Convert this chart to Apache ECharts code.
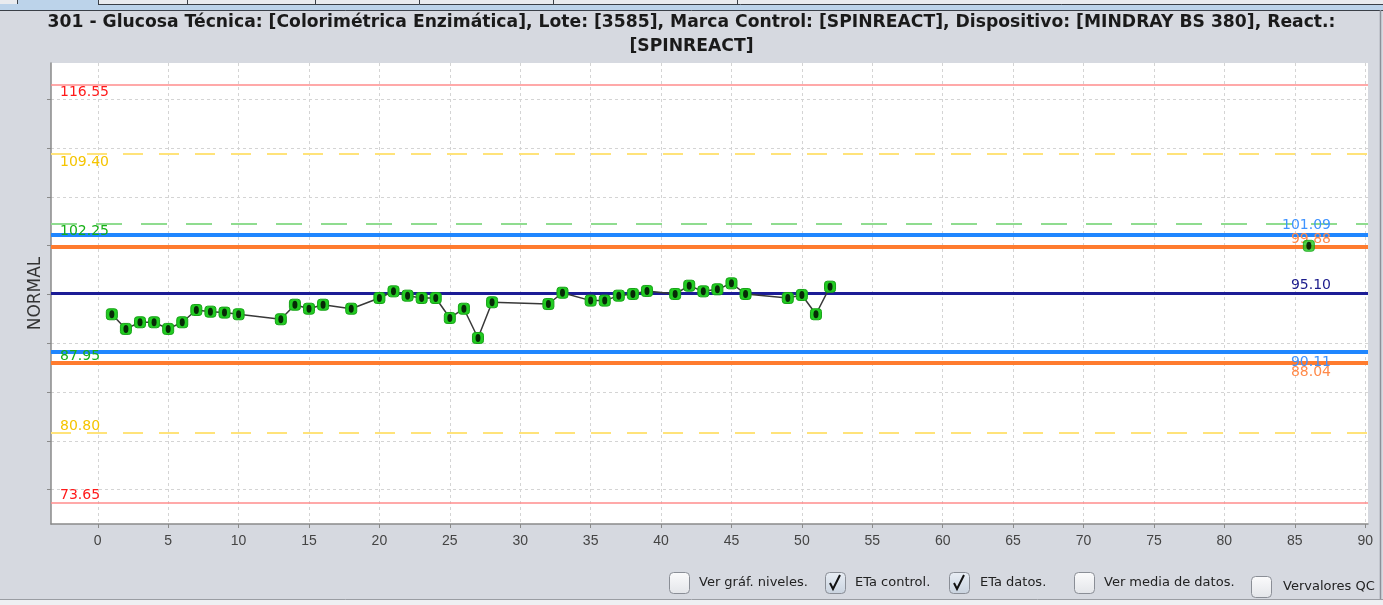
<!DOCTYPE html>
<html>
<head>
<meta charset="utf-8">
<script src="https://cdn.jsdelivr.net/npm/echarts@6.0.0/dist/echarts.min.js"></script>
<style>
html, body { margin: 0; padding: 0; background: #d6d9e0; }
#chart { width: 1383px; height: 605px; }
</style>
</head>
<body>
<div id="chart"></div>
<script>
// puntos de control (nº de corrida / valor)
const runs = [1,2,3,4,5,6,7,8,9,10,13,14,15,16,18,20,21,22,23,24,25,26,27,28,32,33,35,36,37,38,39,41,42,43,44,45,46,49,50,51,52];
const values = [92.97,91.47,92.15,92.15,91.47,92.15,93.41,93.24,93.14,92.97,92.46,93.95,93.54,93.95,93.54,94.64,95.32,94.88,94.64,94.64,92.59,93.54,90.54,94.20,94.02,95.18,94.37,94.37,94.88,95.05,95.36,95.05,95.90,95.32,95.53,96.14,95.05,94.64,94.95,92.97,95.80];
const lastRun = [86];
const lastValue = [99.99];

// limites (media +/- 1, 2, 3 DE)
const limitValues = [116.55, 109.40, 102.25, 87.95, 80.80, 73.65];
const etaControlValues = [101.09, 89.11];
const etaControlLabels = ['101.09', '90.11'];
const etaDatosValues = [99.88, 88.04];
const etaDatosLabels = ['99.88', '88.04'];
const meanValue = 95.10;
const meanLabel = '95.10';

const xTicks = [0,5,10,15,20,25,30,35,40,45,50,55,60,65,70,75,80,85,90];
const yTicks = [75,80,85,90,95,100,105,110,115];

const FONT = 'DejaVu Sans';
const chart = echarts.init(document.getElementById('chart'));

function mk(value, text, color, width, type, labelColor, position, dist) {
    return {
        yAxis: value,
        lineStyle: { color: color, width: width, type: type, opacity: 1 },
        label: {
            show: true, formatter: text, position: position, distance: dist,
            color: labelColor, fontFamily: FONT, fontSize: 14
        }
    };
}

const limitColors = ['#ff8c8c', '#ffe37a', '#8fdc8f', '#8fdc8f', '#ffe37a', '#ff8c8c'];
const limitLabelColors = ['#ff1a1a', '#f5c400', '#17b017', '#17b017', '#f5c400', '#ff1a1a'];
const limitTypes = ['solid', [20, 16], [26, 19], [26, 19], [20, 16], 'solid'];
const limitLines = limitValues.map((v, i) => mk(
    v, v.toFixed(2), limitColors[i], i === 0 || i === 5 ? 1.5 : 2, limitTypes[i], limitLabelColors[i],
    i < 3 ? 'insideStartBottom' : 'insideStartTop', [9, i < 3 ? 1 : 0]
));

const etaLines = [
    mk(etaControlValues[0], etaControlLabels[0], '#1f86ff', 4, 'solid', '#3f93ff', 'insideEndTop', [37, 3]),
    mk(etaDatosValues[0], etaDatosLabels[0], '#ff7b2e', 4, 'solid', '#ff8a4a', 'insideEndTop', [37, 1]),
    mk(etaControlValues[1], etaControlLabels[1], '#1f86ff', 4, 'solid', '#3f93ff', 'insideEndBottom', [37, 3]),
    mk(etaDatosValues[1], etaDatosLabels[1], '#ff7b2e', 4, 'solid', '#ff8a4a', 'insideEndBottom', [37, 3]),
    mk(meanValue, meanLabel, '#1c1c96', 3, 'solid', '#1c1c8c', 'insideEndTop', [37, 1])
];

const points = runs.map((r, i) => [r, values[i]]);
const extra = lastRun.map((r, i) => [r, lastValue[i]]);

const checks = [
    { x: 669, y: 572, text: 'Ver gráf. niveles.', tx: 699, checked: false },
    { x: 825, y: 572, text: 'ETa control.', tx: 855, checked: true },
    { x: 949, y: 572, text: 'ETa datos.', tx: 980, checked: true },
    { x: 1074, y: 572, text: 'Ver media de datos.', tx: 1104, checked: false },
    { x: 1251, y: 576, text: 'Vervalores QC', tx: 1283, checked: false }
];
const checkGraphics = [];
checks.forEach(c => {
    checkGraphics.push({
        type: 'rect', shape: { x: c.x + 0.5, y: c.y + 0.5, width: 20, height: 21, r: 4 },
        style: {
            fill: new echarts.graphic.LinearGradient(0, 0, 0, 1, [
                { offset: 0, color: c.checked ? '#e9eef5' : '#fbfbfc' },
                { offset: 1, color: c.checked ? '#c9d3df' : '#e3e5e9' }
            ]),
            stroke: '#8a8e96', lineWidth: 1
        }
    });
    if (c.checked) {
        checkGraphics.push({
            type: 'polyline', shape: { points: [[c.x + 5, c.y + 11], [c.x + 8, c.y + 17], [c.x + 15, c.y + 3]] },
            style: { stroke: '#111', lineWidth: 2, fill: null }
        });
    }
    checkGraphics.push({
        type: 'text', x: c.tx, y: c.y + 11,
        style: { text: c.text, fill: '#222', font: '13px "DejaVu Sans", sans-serif', verticalAlign: 'middle' }
    });
});

const tabXs = [17, 98, 187, 315, 419, 553, 737];
const frameGraphics = [
    { type: 'rect', shape: { x: 0, y: 0, width: 1383, height: 10 }, style: { fill: '#bcd3ea' } },
    { type: 'rect', shape: { x: 98, y: 0, width: 1285, height: 4 }, style: { fill: '#e9ebef' } },
    { type: 'rect', shape: { x: 0, y: 0, width: 17, height: 4 }, style: { fill: '#e9ebef' } },
    { type: 'line', shape: { x1: 98, y1: 4.5, x2: 1383, y2: 4.5 }, style: { stroke: '#3b4048', lineWidth: 1 } },
    { type: 'line', shape: { x1: 0, y1: 10.5, x2: 1383, y2: 10.5 }, style: { stroke: '#3b4048', lineWidth: 1 } },
    { type: 'line', shape: { x1: 1380.5, y1: 10, x2: 1380.5, y2: 599 }, style: { stroke: '#8c9098', lineWidth: 1.5 } },
    { type: 'rect', shape: { x: 0, y: 599, width: 1383, height: 6 }, style: { fill: '#eef0f3' } },
    { type: 'line', shape: { x1: 0, y1: 599.5, x2: 1383, y2: 599.5 }, style: { stroke: '#9a9da3', lineWidth: 1 } }
].concat(tabXs.map(x => ({
    type: 'line', shape: { x1: x + 0.5, y1: 0, x2: x + 0.5, y2: 4 }, style: { stroke: '#3b4048', lineWidth: 1 }
})));

chart.setOption({
    backgroundColor: '#d6d9e0',
    animation: false,
    title: {
        text: '301 - Glucosa Técnica: [Colorimétrica Enzimática], Lote: [3585], Marca Control: [SPINREACT], Dispositivo: [MINDRAY BS 380], React.:\n[SPINREACT]',
        left: 'center', top: 11, padding: 0,
        textStyle: { fontFamily: FONT, fontSize: 17.2, fontWeight: 'bold', color: '#1a1a1a', lineHeight: 24, align: 'center' }
    },
    grid: { left: 51, top: 63, width: 1317, height: 461, show: true, backgroundColor: '#ffffff', borderWidth: 0 },
    xAxis: {
        type: 'value', min: -3.32, max: 90.2,
        axisLine: { show: true, onZero: false, lineStyle: { color: '#8a8a8a', width: 1.5 } },
        axisTick: { show: true, length: 4, customValues: xTicks, lineStyle: { color: '#8a8a8a' } },
        axisLabel: { customValues: xTicks, margin: 10, color: '#444', fontFamily: 'Liberation Sans', fontSize: 14 },
        splitLine: { show: true, lineStyle: { color: '#d4d4d4', type: [3, 3], width: 1 } }
    },
    yAxis: {
        type: 'value', min: 71.47, max: 118.73,
        name: 'NORMAL', nameLocation: 'middle', nameGap: 7,
        nameTextStyle: { color: '#333', fontFamily: FONT, fontSize: 17 },
        axisLine: { show: true, onZero: false, lineStyle: { color: '#8a8a8a', width: 1.5 } },
        axisTick: { show: true, length: 4, customValues: yTicks, lineStyle: { color: '#8a8a8a' } },
        axisLabel: { show: false, customValues: yTicks },
        splitLine: { show: true, lineStyle: { color: '#d4d4d4', type: [3, 3], width: 1 } }
    },
    graphic: frameGraphics.concat(checkGraphics),
    series: [
        {
            type: 'line', data: [], z: 1, silent: true,
            markLine: { silent: true, symbol: ['none', 'none'], animation: false, data: limitLines }
        },
        {
            type: 'line', data: [], z: 2, silent: true,
            markLine: { silent: true, symbol: ['none', 'none'], animation: false, data: etaLines }
        },
        {
            type: 'line', data: points, z: 5,
            symbol: 'roundRect', symbolSize: 11,
            itemStyle: { color: '#22cc22', borderColor: '#17a317', borderWidth: 1 },
            lineStyle: { color: '#383838', width: 1.5 }
        },
        {
            type: 'scatter', data: extra, z: 5,
            symbol: 'roundRect', symbolSize: 11,
            itemStyle: { color: '#22cc22', borderColor: '#17a317', borderWidth: 1 }
        },
        {
            type: 'scatter', data: points.concat(extra), z: 6, silent: true,
            symbol: 'circle', symbolSize: [5, 8],
            itemStyle: { color: '#000' }
        }
    ]
});
</script>
</body>
</html>
